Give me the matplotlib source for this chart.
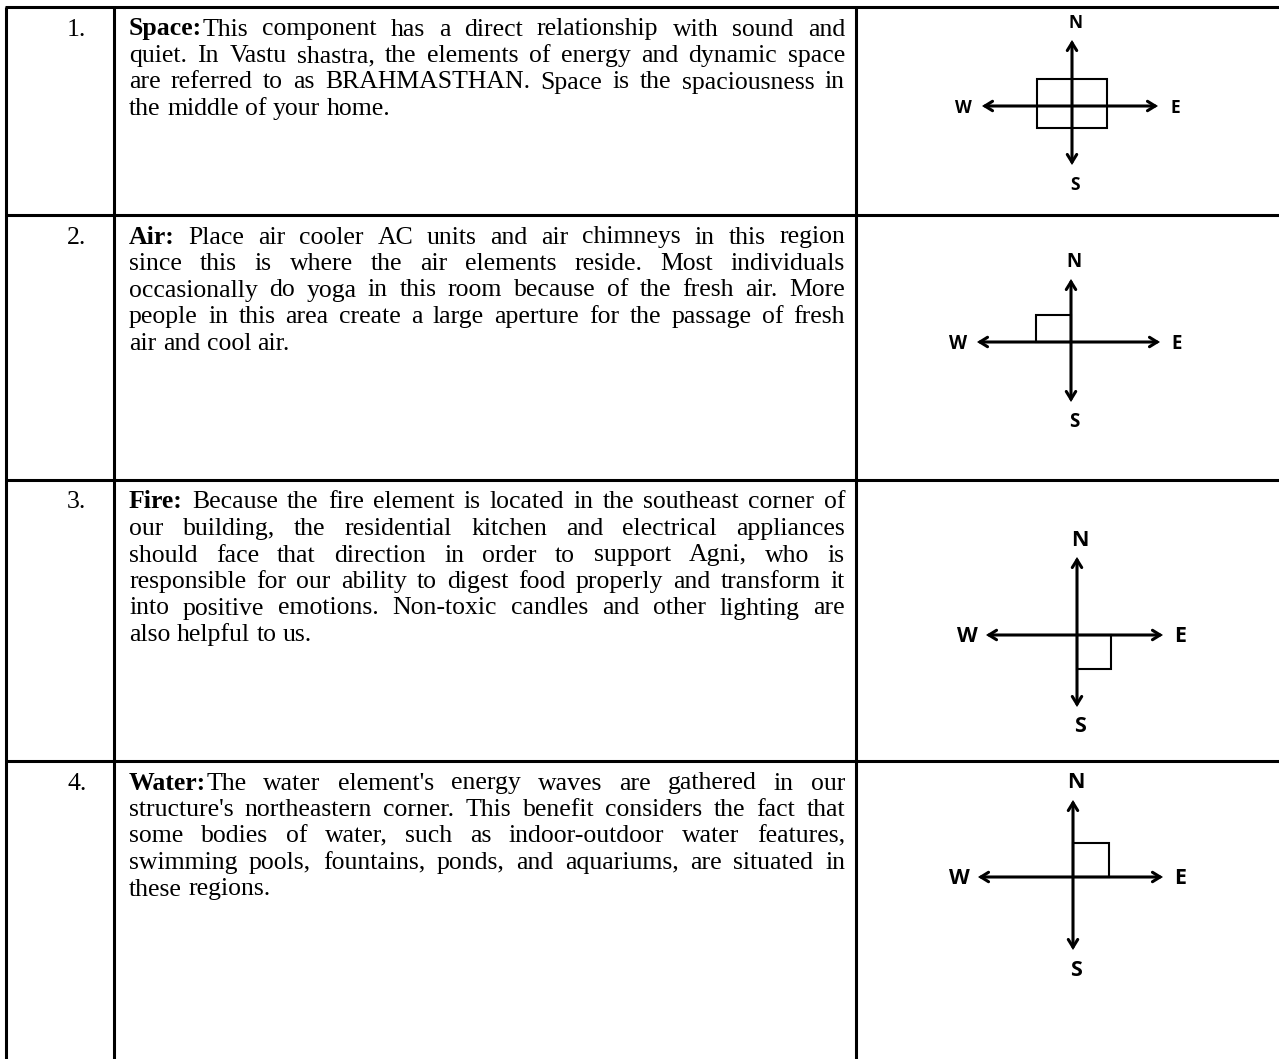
import matplotlib
matplotlib.use('agg')
import matplotlib.pyplot as plt
import matplotlib.patches as mpatches

# table content
item_numbers = ['1.', '2.', '3.', '4.']
item_titles = ['Space:', 'Air:', 'Fire:', 'Water:']
item_lines = [
    [
        'Space:This component has a direct relationship with sound and',
        'quiet. In Vastu shastra, the elements of energy and dynamic space',
        'are referred to as BRAHMASTHAN. Space is the spaciousness in',
        'the middle of your home.',
    ],
    [
        'Air: Place air cooler AC units and air chimneys in this region',
        'since this is where the air elements reside. Most individuals',
        'occasionally do yoga in this room because of the fresh air. More',
        'people in this area create a large aperture for the passage of fresh',
        'air and cool air.',
    ],
    [
        'Fire: Because the fire element is located in the southeast corner of',
        'our building, the residential kitchen and electrical appliances',
        'should face that direction in order to support Agni, who is',
        'responsible for our ability to digest food properly and transform it',
        'into positive emotions. Non-toxic candles and other lighting are',
        'also helpful to us.',
    ],
    [
        "Water:The water element's energy waves are gathered in our",
        "structure's northeastern corner. This benefit considers the fact that",
        'some bodies of water, such as indoor-outdoor water features,',
        'swimming pools, fountains, ponds, and aquariums, are situated in',
        'these regions.',
    ],
]
# which part of the plan is marked in each compass sketch
zone_marks = ['center', 'NW', 'SE', 'NE']
compass_labels = ['N', 'S', 'W', 'E']

W, H = 1279, 1059
fig = plt.figure(figsize=(W / 100, H / 100), dpi=100)
ax = fig.add_axes([0, 0, 1, 1])
ax.set_xlim(0, W)
ax.set_ylim(H, 0)
ax.axis('off')

# table grid (pixel layout)
row_tops = [7, 215, 480, 761]
col_x = [6, 113.5, 856]
grid_lw = 2.2
for x in col_x:
    ax.plot([x, x], [row_tops[0], H], color='black', lw=grid_lw, solid_capstyle='butt')
for y in row_tops:
    ax.plot([col_x[0] - 1, W], [y, y], color='black', lw=grid_lw, solid_capstyle='butt')

serif = 'Liberation Serif'
fsize = 18.5
text_left, text_right = 129, 845
first_base, line_step = 28.5, 26.5

renderer = fig.canvas.get_renderer()


def text_width(s, weight='normal'):
    t = ax.text(0, 0, s, fontsize=fsize, family=serif, fontweight=weight)
    w = t.get_window_extent(renderer).width
    t.remove()
    return w


space_w = text_width('x x') - text_width('xx')


def draw_paragraph(lines, title, top):
    for i, line in enumerate(lines):
        y = top + first_base + i * line_step
        words = line.split(' ')
        pieces = []
        for j, word in enumerate(words):
            if i == 0 and j == 0 and word.startswith(title):
                parts = [(title, 'bold')]
                if word[len(title):]:
                    parts.append((word[len(title):], 'normal'))
            else:
                parts = [(word, 'normal')]
            pieces.append(parts)
        widths = [sum(text_width(p, wt) for p, wt in parts) for parts in pieces]
        last = i == len(lines) - 1
        if last or len(words) == 1:
            gap = space_w
        else:
            gap = (text_right - text_left - sum(widths)) / (len(words) - 1)
        x = text_left
        for parts, wd in zip(pieces, widths):
            xx = x
            for p, wt in parts:
                ax.text(xx, y, p, fontsize=fsize, family=serif, fontweight=wt,
                        ha='left', va='baseline', color='black')
                xx += text_width(p, wt)
            x += wd + gap


for k in range(4):
    top = row_tops[k]
    ax.text(67, top + first_base, item_numbers[k], fontsize=fsize, family=serif,
            ha='left', va='baseline', color='black')
    draw_paragraph(item_lines[k], item_titles[k], top)

# compass sketches: centre, arm tips (up, down, left, right), label size, mark size
compass_geo = [
    dict(c=(1072, 106), up=40, down=165, left=982, right=1158, fs=12.5, box=(70, 49), boff=(-35, -27)),
    dict(c=(1071, 342), up=279, down=402, left=977, right=1160, fs=13.5, box=(35, 27), boff=None),
    dict(c=(1077, 635), up=557, down=707, left=986, right=1163, fs=15.5, box=(34, 34), boff=None),
    dict(c=(1073, 877), up=800, down=950, left=978, right=1163, fs=15.5, box=(36, 34), boff=None),
]
label_gap = [(3, -17), (3, 20), (-19, 2), (17, 2)]

arrow_style = '<->,head_length=5.5,head_width=3.4'
for geo, mark in zip(compass_geo, zone_marks):
    cx, cy = geo['c']
    for a, b in [((cx, geo['up']), (cx, geo['down'])), ((geo['left'], cy), (geo['right'], cy))]:
        ax.add_patch(mpatches.FancyArrowPatch(a, b, arrowstyle=arrow_style, mutation_scale=1,
                                              lw=2.2, color='black', shrinkA=0, shrinkB=0,
                                              joinstyle='miter'))
    bw, bh = geo['box']
    if mark == 'center':
        x0, y0 = cx + geo['boff'][0], cy + geo['boff'][1]
    else:
        x0 = cx - bw if 'W' in mark else cx
        y0 = cy - bh if 'N' in mark else cy
    ax.add_patch(mpatches.Rectangle((x0, y0), bw, bh, fill=False, lw=1.5, ec='black'))
    tips = [(cx, geo['up']), (cx, geo['down']), (geo['left'], cy), (geo['right'], cy)]
    for lab, (tx, ty), (dx, dy) in zip(compass_labels, tips, label_gap):
        ax.text(tx + dx, ty + dy, lab, fontsize=geo['fs'], family='Open Sans', fontweight='bold',
                ha='center', va='center', color='black')

fig.savefig('out.png', dpi=100)
plt.close(fig)
